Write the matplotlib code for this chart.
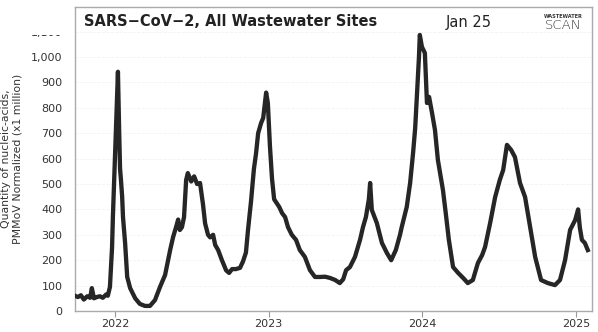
import matplotlib.pyplot as plt
from matplotlib.patches import Rectangle
import numpy as np

# days since 2022-01-01 and concentration (x1 million)
days = [-95, -88, -81, -74, -66, -59, -55, -50, -43, -36, -29, -21, -17, -12, -7, -5,
        0, 5, 7, 10, 12, 14, 17, 19, 24, 29, 36, 48, 59, 71, 83, 95, 107, 119, 131,
        138, 145, 150, 154, 159, 164, 169, 173, 181, 188, 195, 202, 209, 214, 221,
        226, 233, 238, 245, 254, 264, 271, 278, 287, 297, 304, 311, 316, 323, 330,
        335, 340, 347, 352, 359, 363, 368, 373, 378, 382, 390, 397, 404, 411, 420,
        430, 439, 451, 463, 475, 487, 499, 511, 523, 534, 542, 549, 558, 570, 582,
        589, 596, 603, 606, 610, 622, 629, 634, 646, 656, 667, 677, 681, 693, 701,
        708, 713, 717, 722, 724, 729, 736, 741, 746, 753, 760, 767, 779, 786, 793,
        803, 815, 827, 838, 850, 862, 872, 879, 891, 903, 914, 922, 931, 941, 950,
        962, 974, 986, 998, 1012, 1028, 1045, 1057, 1069, 1081, 1093, 1100, 1104,
        1109, 1116, 1123]
values = [60, 55, 62, 45, 58, 52, 90, 50, 55, 58, 52, 65, 60, 95, 250, 370,
          606, 850, 942, 700, 560, 520, 450, 370, 268, 134, 90, 50, 28, 20, 20, 43,
          95, 142, 240, 291, 330, 360, 319, 330, 370, 516, 543, 510, 530, 500, 504,
          420, 345, 300, 290, 300, 260, 240, 200, 160, 150, 165, 165, 170, 195, 230,
          320, 430, 560, 620, 700, 740, 760, 860, 820, 650, 520, 440, 430, 410, 385,
          370, 330, 300, 280, 240, 213, 161, 134, 134, 135, 130, 122, 110, 125, 161,
          173, 213, 280, 330, 370, 440, 504, 398, 346, 300, 268, 228, 200, 240, 300,
          330, 410, 504, 622, 720, 843, 1000, 1087, 1040, 1016, 819, 843, 780, 713,
          594, 476, 380, 280, 173, 150, 130, 110, 122, 189, 220, 252, 346, 449, 516,
          555, 654, 634, 606, 504, 449, 330, 213, 122, 110, 102, 122, 200, 319, 358,
          400, 330, 280, 268, 240]
y_ticks = [0, 100, 200, 300, 400, 500, 600, 700, 800, 900, 1000, 1100]
x_years = ['2022', '2023', '2024', '2025']

base = np.datetime64('2022-01-01')
dates = base + np.array(days).astype('timedelta64[D]')

fig = plt.figure(figsize=(5.98, 3.32), dpi=100)
ax = fig.add_axes([75/598, 1 - 311/332, 517/598, 304/332])

ax.plot(dates, values, color='#262626', lw=3.1, solid_joinstyle='round', zorder=3)

ax.set_ylim(0, 1197)
ax.set_xlim(base - np.timedelta64(95, 'D'), base + np.timedelta64(1133, 'D'))
ax.set_yticks(y_ticks)
ax.set_yticklabels([f'{v:,}' for v in y_ticks])
ax.set_xticks([np.datetime64(y + '-01-01') for y in x_years])
ax.set_xticklabels(x_years)
ax.tick_params(axis='y', length=0, pad=9, labelsize=8, labelcolor='#333333')
ax.tick_params(axis='x', length=4, color='#999999', pad=1.5, labelsize=8, labelcolor='#333333')
ax.grid(axis='y', color='#f3f3f3', lw=0.6, ls='--')

for s in ax.spines.values():
    s.set_color('#aaaaaa')
    s.set_linewidth(1)

ax.set_ylabel('Quantity of nucleic-acids,\nPMMoV Normalized (x1 million)',
              fontsize=7.8, color='#333333', labelpad=6, linespacing=1.15)

# white header strip hides the top tick label like the original
fig.patches.append(Rectangle((0, 1 - 35/332), 74/598, 35/332, transform=fig.transFigure,
                             facecolor='white', edgecolor='none', zorder=1))

fig.text(84/598, 1 - 22/332, 'SARS\u2212CoV\u22122, All Wastewater Sites', fontsize=10.5,
         fontweight='bold', color='#222222', va='center', ha='left')
fig.text(469/598, 1 - 22/332, 'Jan 25', fontsize=10.5, color='#222222', va='center', ha='center')
fig.text(563/598, 1 - 16/332, 'WASTEWATER', fontsize=3.6, fontweight='bold', color='#333333',
         va='center', ha='center')
fig.text(563/598, 1 - 25/332, 'SCAN', fontsize=9.5, color='#333333', va='center', ha='center',
         fontweight='light')

fig.savefig('out.png', dpi=100)
